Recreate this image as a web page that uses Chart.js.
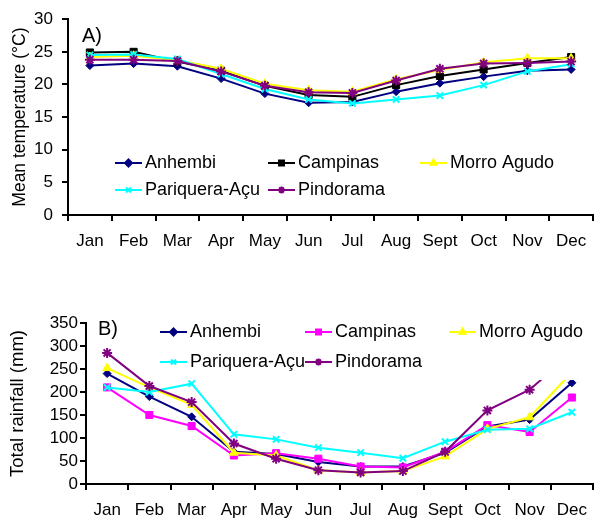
<!DOCTYPE html>
<html lang="en">
<head>
<meta charset="UTF-8">
<title>Mean temperature and total rainfall</title>
<style>
  body { margin: 0; background: #fff; }
  canvas { display: block; }
</style>
</head>
<body>
<canvas id="tempChart" width="600" height="260"></canvas>
<canvas id="rainChart" width="600" height="258"></canvas>

<script src="https://cdn.jsdelivr.net/npm/chart.js"></script>
<script>
// months and sites
const months = ['Jan', 'Feb', 'Mar', 'Apr', 'May', 'Jun', 'Jul', 'Aug', 'Sept', 'Oct', 'Nov', 'Dec'];
const sites = ['Anhembi', 'Campinas', 'Morro Agudo', 'Pariquera-Açu', 'Pindorama'];

// A) mean temperature (°C)
const tempAnhembi   = [22.9, 23.2, 22.8, 20.9, 18.6, 17.2, 17.3, 18.9, 20.2, 21.2, 22.1, 22.3];
const tempCampinas  = [24.9, 25.0, 23.5, 22.1, 19.8, 18.4, 18.1, 19.9, 21.3, 22.3, 23.3, 24.2];
const tempMorro     = [24.2, 24.4, 23.7, 22.4, 20.1, 19.1, 18.9, 20.8, 22.2, 23.4, 24.0, 24.0];
const tempPariquera = [24.5, 24.6, 23.9, 21.6, 19.3, 17.7, 17.1, 17.7, 18.3, 19.9, 22.0, 23.1];
const tempPindorama = [23.8, 23.8, 23.6, 22.0, 19.8, 18.8, 18.7, 20.6, 22.4, 23.2, 23.3, 23.5];

// B) total rainfall (mm)
const rainAnhembi   = [240, 190, 146, 70, 65, 48, 38, 38, 68, 125, 140, 220];
const rainCampinas  = [210, 150, 126, 62, 67, 55, 38, 36, 70, 128, 113, 188];
const rainMorro     = [252, 210, 172, 68, 62, 30, 25, 28, 60, 120, 145, 243];
const rainPariquera = [210, 200, 218, 108, 97, 79, 68, 56, 92, 118, 120, 156];
const rainPindorama = [285, 213, 178, 88, 55, 30, 25, 28, 70, 160, 205, 285];

const colorsA = ['#000080', '#000000', '#FFFF00', '#00FFFF', '#800080'];
const colorsB = ['#000080', '#FF00FF', '#FFFF00', '#00FFFF', '#800080'];
const markers = ['rectRot', 'rect', 'triangle', 'crossRot', 'star'];
const markerSize = [4, 5, 5, 4.5, 5];

Chart.defaults.font.family = '"Liberation Sans", Arial, sans-serif';
Chart.defaults.color = '#000';

function makeDatasets(series, colors) {
    return series.map((data, i) => ({
        label: sites[i],
        data: data,
        borderColor: colors[i],
        backgroundColor: colors[i],
        pointBackgroundColor: colors[i],
        pointBorderColor: colors[i],
        pointStyle: markers[i],
        pointRadius: markerSize[i],
        pointBorderWidth: i >= 3 ? 2 : 1,
        borderWidth: 2,
        tension: 0,
        order: 4 - i   // later series on top, like the original
    }));
}

// legend with line + marker drawn inside the plot, plus the panel letter
const panelLegend = {
    id: 'panelLegend',
    afterDatasetsDraw(chart, args, opts) {
        const ctx = chart.ctx;
        ctx.save();
        if (opts.box) {
            ctx.fillStyle = '#fff';
            ctx.fillRect(opts.box[0], opts.box[1], opts.box[2], opts.box[3]);
        }
        ctx.font = '18px "Liberation Sans", Arial, sans-serif';
        ctx.textBaseline = 'middle';
        chart.data.datasets.forEach((ds, i) => {
            const [x, y] = opts.spots[i];
            ctx.strokeStyle = ds.borderColor;
            ctx.lineWidth = 2;
            ctx.beginPath();
            ctx.moveTo(x, y);
            ctx.lineTo(x + 27, y);
            ctx.stroke();
            ctx.fillStyle = ds.borderColor;
            Chart.helpers.drawPoint(ctx, {
                pointStyle: ds.pointStyle, radius: 3.5, rotation: 0, borderWidth: 1.5
            }, x + 13.5, y);
            ctx.fillStyle = '#000';
            ctx.fillText(ds.label, x + 30, y);
        });
        ctx.font = '20px "Liberation Sans", Arial, sans-serif';
        ctx.textBaseline = 'alphabetic';
        ctx.fillStyle = '#000';
        ctx.fillText(opts.tag, opts.tagAt[0], opts.tagAt[1]);
        ctx.restore();
    }
};

function makeOptions(o) {
    return {
        responsive: false,
        animation: false,
        layout: { padding: { top: o.top, right: 3, left: 0, bottom: 0 } },
        plugins: {
            legend: { display: false },
            tooltip: { enabled: false },
            panelLegend: { spots: o.spots, box: o.box, tag: o.tag, tagAt: o.tagAt }
        },
        scales: {
            x: {
                offset: true,
                grid: { offset: true, drawOnChartArea: false, color: '#000', lineWidth: 2, tickLength: 6 },
                border: { color: '#000', width: 2 },
                ticks: { font: { size: 17 }, padding: 10, maxRotation: 0, autoSkip: false },
                afterFit(s) { s.height = o.xHeight; }
            },
            y: {
                min: 0,
                max: o.yMax,
                grid: { drawOnChartArea: false, color: '#000', lineWidth: 2, tickLength: 6 },
                border: { color: '#000', width: 2 },
                ticks: { stepSize: o.yStep, font: { size: 17 }, padding: o.yPad, autoSkip: false },
                title: {
                    display: true, text: o.yTitle, font: { size: o.titleSize },
                    padding: { top: o.titlePad, bottom: 0 }
                },
                afterFit(s) { s.width = o.yWidth; }
            }
        }
    };
}

new Chart(document.getElementById('tempChart'), {
    type: 'line',
    data: {
        labels: months,
        datasets: makeDatasets([tempAnhembi, tempCampinas, tempMorro, tempPariquera, tempPindorama], colorsA)
    },
    options: makeOptions({
        top: 18, xHeight: 45, yWidth: 68, yPad: 9, titlePad: 10, titleSize: 17.5,
        yMax: 30, yStep: 5, yTitle: 'Mean temperature (°C)',
        spots: [[115, 163], [268, 163], [420, 163], [115, 190], [268, 190]],
        box: null, tag: 'A)', tagAt: [82, 42]
    }),
    plugins: [panelLegend]
});

new Chart(document.getElementById('rainChart'), {
    type: 'line',
    data: {
        labels: months,
        datasets: makeDatasets([rainAnhembi, rainCampinas, rainMorro, rainPariquera, rainPindorama], colorsB)
    },
    options: makeOptions({
        top: 63, xHeight: 34, yWidth: 86, yPad: 2, titlePad: 7, titleSize: 18.5,
        yMax: 350, yStep: 50, yTitle: 'Total rainfall (mm)',
        spots: [[160, 72], [305, 72], [449, 72], [160, 102], [305, 102]],
        box: [150, 58, 447, 62], tag: 'B)', tagAt: [98, 75]
    }),
    plugins: [panelLegend]
});
</script>
</body>
</html>
